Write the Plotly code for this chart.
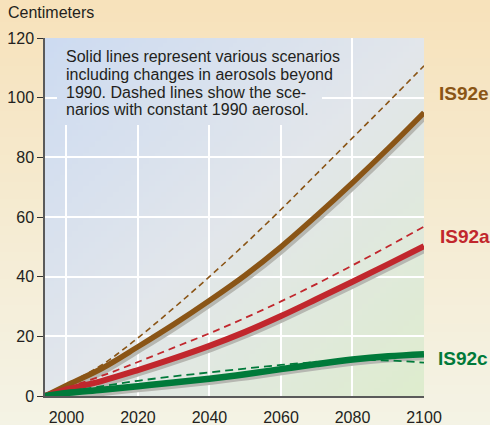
import base64, struct, zlib
import plotly.graph_objects as go

# ---------------- data ----------------
years = [1994, 2000, 2010, 2020, 2030, 2040, 2050, 2060, 2070, 2080, 2090, 2100]
is92e_solid = [0, 3.5, 9.3, 16.5, 24.0, 32.0, 40.5, 50.0, 60.5, 71.5, 83.0, 95.0]
is92e_dashed = [0, 3.8, 10.5, 19.5, 29.5, 40.0, 51.0, 62.5, 74.5, 86.5, 98.5, 110.7]
is92a_solid = [0, 2.2, 5.1, 8.7, 12.6, 16.8, 21.5, 26.8, 32.5, 38.3, 44.2, 50.2]
is92a_dashed = [0, 2.7, 6.8, 11.4, 16.2, 21.0, 26.2, 31.7, 37.6, 43.8, 50.2, 56.8]
is92c_solid = [0, 1.0, 2.1, 3.3, 4.5, 5.8, 7.3, 9.0, 10.7, 12.2, 13.3, 14.0]
is92c_dashed = [0, 1.4, 3.3, 5.1, 6.6, 7.9, 9.2, 10.4, 11.4, 12.0, 11.9, 11.2]
x_ticks = [2000, 2020, 2040, 2060, 2080, 2100]
y_ticks = [0, 20, 40, 60, 80, 100, 120]
series_names = ["IS92e", "IS92a", "IS92c"]
note_lines = [
    "Solid lines represent various scenarios",
    "including changes in aerosols beyond",
    "1990. Dashed lines show the sce-",
    "narios with constant 1990 aerosol.",
]

# ---------------- styles ----------------
W, H = 490, 425
ML, MR, MT, MB = 45, 66, 38, 29
PW, PH = W - ML - MR, H - MT - MB
X0, X1 = 1994, 2100
Y0, Y1 = 0, 120
BROWN, RED, GREEN = "#8a5516", "#c1272d", "#007a3a"
SHADOW = "#b6b7b1"
FONT = "Liberation Sans, Arial, Helvetica, sans-serif"
TXT = "#231f20"


def png_uri(w, h, fn):
    rows = []
    for j in range(h):
        row = bytearray([0])
        for i in range(w):
            row.extend(fn(i / (w - 1), j / (h - 1)))
        rows.append(bytes(row))
    raw = b"".join(rows)

    def chunk(tag, data):
        return (struct.pack(">I", len(data)) + tag + data +
                struct.pack(">I", zlib.crc32(tag + data) & 0xFFFFFFFF))

    png = (b"\x89PNG\r\n\x1a\n" +
           chunk(b"IHDR", struct.pack(">IIBBBBB", w, h, 8, 2, 0, 0, 0)) +
           chunk(b"IDAT", zlib.compress(raw, 9)) + chunk(b"IEND", b""))
    return "data:image/png;base64," + base64.b64encode(png).decode()


def lerp_stops(t, stops):
    t = min(max(t, 0.0), 1.0)
    for (t0, c0), (t1, c1) in zip(stops, stops[1:]):
        if t <= t1:
            f = (t - t0) / (t1 - t0) if t1 > t0 else 0
            return [int(round(a + (b - a) * f)) for a, b in zip(c0, c1)]
    return list(stops[-1][1])


PLOT_STOPS = [(0.0, (205, 219, 241)), (0.5, (226, 230, 235)), (1.0, (222, 236, 206))]
PAPER_STOPS = [(0.0, (247, 226, 187)), (0.55, (245, 236, 212)), (1.0, (244, 243, 229))]


def plot_grad(u, v):
    return lerp_stops(0.5 * u + 0.5 * v, PLOT_STOPS)


def paper_grad(u, v):
    return lerp_stops(v, PAPER_STOPS)


# box behind the note (covers the gridlines, like in the original)
bx0_px, bx1_px, by0_px, by1_px = 57, 322, 38, 125
bu0, bu1 = (bx0_px - ML) / PW, (bx1_px - ML) / PW
bv0, bv1 = (by0_px - MT) / PH, (by1_px - MT) / PH


def box_grad(u, v):
    return plot_grad(bu0 + (bu1 - bu0) * u, bv0 + (bv1 - bv0) * v)


images = [
    dict(source=png_uri(48, 48, paper_grad), xref="paper", yref="paper",
         x=-ML / PW, y=1 + MT / PH, sizex=W / PW, sizey=H / PH,
         xanchor="left", yanchor="top", sizing="stretch", layer="below"),
    dict(source=png_uri(64, 64, plot_grad), xref="x", yref="y",
         x=X0, y=Y1, sizex=X1 - X0, sizey=Y1 - Y0,
         xanchor="left", yanchor="top", sizing="stretch", layer="below"),
    dict(source=png_uri(64, 24, box_grad), xref="paper", yref="paper",
         x=bu0, y=1 - bv0, sizex=bu1 - bu0, sizey=bv1 - bv0,
         xanchor="left", yanchor="top", sizing="stretch", layer="above"),
]

fig = go.Figure()

# shadow offsets in data units (~2.5px right, ~2.7px down)
dx = 2.5 * (X1 - X0) / PW
dy = 2.7 * (Y1 - Y0) / PH

solids = [(is92e_solid, BROWN, 5.5), (is92a_solid, RED, 6), (is92c_solid, GREEN, 6.5)]
dashes = [(is92e_dashed, BROWN, 1.6, "6px,4px"),
          (is92a_dashed, RED, 1.8, "7px,5px"),
          (is92c_dashed, GREEN, 1.8, "8px,5px")]

for ys, col, w in solids:
    fig.add_trace(go.Scatter(x=[x + dx for x in years], y=[y - dy for y in ys],
                             mode="lines", line=dict(color=SHADOW, width=w, shape="spline"),
                             hoverinfo="skip", showlegend=False))
for (ys, col, w, d), name in zip(dashes, series_names):
    fig.add_trace(go.Scatter(x=years, y=ys, mode="lines", name=name + " constant aerosol",
                             line=dict(color=col, width=w, dash=d, shape="spline"),
                             showlegend=False))
for (ys, col, w), name in zip(solids, series_names):
    fig.add_trace(go.Scatter(x=years, y=ys, mode="lines", name=name,
                             line=dict(color=col, width=w, shape="spline"),
                             showlegend=False))

annotations = []
# note text, one annotation per line for tight line spacing
for k, (line, cy) in enumerate(zip(note_lines, [56.5, 74.5, 92, 109.5])):
    annotations.append(dict(text=line, xref="paper", yref="paper",
                            x=(63.5 - ML) / PW, y=(MT + PH - cy) / PH,
                            xanchor="left", yanchor="middle", showarrow=False,
                            font=dict(family=FONT, size=16, color=TXT)))
annotations.append(dict(text="Centimeters", xref="paper", yref="paper",
                        x=(6 - ML) / PW, y=(MT + PH - 12) / PH,
                        xanchor="left", yanchor="middle", showarrow=False,
                        font=dict(family=FONT, size=16, color=TXT)))
for name, col, cy, lx in zip(series_names, [BROWN, RED, GREEN], [94, 236, 358],
                             [437, 438, 436]):
    annotations.append(dict(text="<b>%s</b>" % name, xref="paper", yref="paper",
                            x=(lx - ML) / PW, y=(MT + PH - cy) / PH,
                            xanchor="left", yanchor="middle", showarrow=False,
                            font=dict(family=FONT, size=19, color=col)))

axis_common = dict(showgrid=True, gridcolor="white", gridwidth=1.5, zeroline=False,
                   showline=True, linecolor="#5a5a5a", linewidth=1.5, automargin=False,
                   tickfont=dict(family=FONT, size=16, color=TXT), fixedrange=True)

fig.update_layout(
    width=W, height=H, autosize=False,
    margin=dict(l=ML, r=MR, t=MT, b=MB, pad=0),
    paper_bgcolor="#f5ecd6", plot_bgcolor="rgba(0,0,0,0)",
    images=images, annotations=annotations,
    xaxis=dict(range=[X0, X1], tickvals=x_ticks, ticks="", ticklabelstandoff=6,
               **axis_common),
    yaxis=dict(range=[Y0, Y1], tickvals=y_ticks, ticks="outside", ticklen=6,
               tickwidth=1.3, tickcolor="#333333", **axis_common),
    showlegend=False,
)

fig.write_html("out.html", config={"displayModeBar": False},
               post_script="document.body.style.margin='0';document.body.style.padding='0';")
